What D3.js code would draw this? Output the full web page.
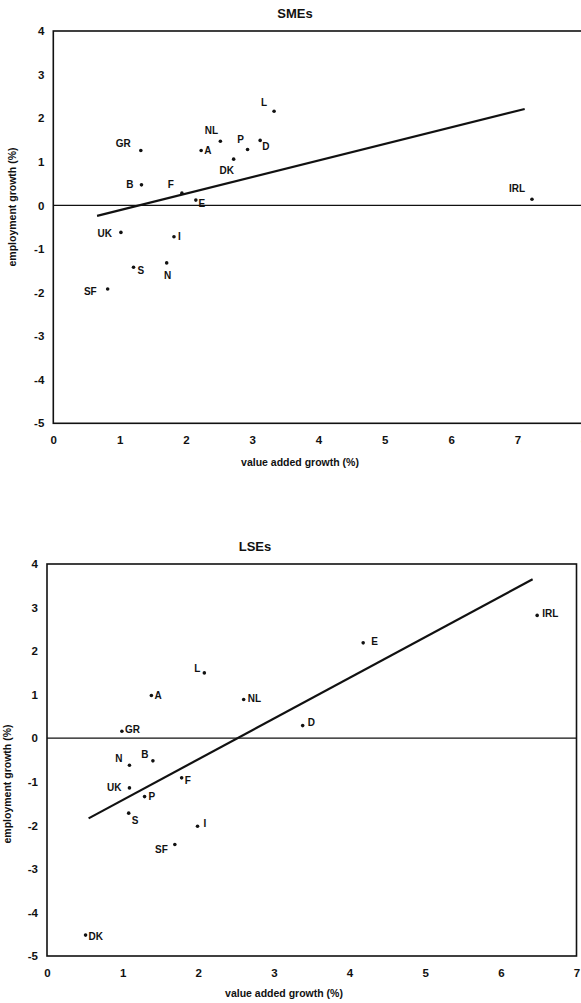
<!DOCTYPE html>
<html>
<head>
<meta charset="utf-8">
<script src="https://cdn.jsdelivr.net/npm/d3@7"></script>
<style>
  body { margin: 0; background: #fff; }
  text { font-family: "Liberation Sans", Arial, sans-serif; fill: #111; }
</style>
</head>
<body>
<svg id="plot"></svg>
<script>
// SMEs panel data
const smeCountries = ["GR", "B", "F", "E", "A", "NL", "P", "D", "L", "DK", "IRL", "UK", "I", "S", "N", "SF"];
const smeValueAdded = [1.32, 1.33, 1.94, 2.15, 2.23, 2.52, 2.93, 3.12, 3.33, 2.72, 7.22, 1.02, 1.82, 1.21, 1.71, 0.82];
const smeEmployment = [1.26, 0.47, 0.28, 0.12, 1.26, 1.47, 1.28, 1.49, 2.16, 1.06, 0.14, -0.62, -0.72, -1.42, -1.32, -1.92];
const smeTrendX = [0.66, 7.11];
const smeTrendY = [-0.24, 2.21];

// LSEs panel data
const lseCountries = ["GR", "N", "B", "UK", "P", "F", "S", "I", "SF", "A", "L", "NL", "E", "D", "IRL", "DK"];
const lseValueAdded = [0.99, 1.09, 1.40, 1.09, 1.29, 1.78, 1.08, 1.99, 1.69, 1.38, 2.08, 2.60, 4.18, 3.38, 6.48, 0.51];
const lseEmployment = [0.16, -0.62, -0.52, -1.14, -1.34, -0.91, -1.72, -2.02, -2.44, 0.98, 1.50, 0.89, 2.19, 0.29, 2.82, -4.52];
const lseTrendX = [0.55, 6.42];
const lseTrendY = [-1.84, 3.65];

const yTicks = [4, 3, 2, 1, 0, -1, -2, -3, -4, -5];

// label placement around each dot: [dx, dy, anchor]
const smeLabelPos = {
  GR: [-10, -3, "end"], B: [-8, 3, "end"], F: [-8, -5, "end"], E: [6, 7, "middle"],
  A: [3, 4, "start"], NL: [-9, -7, "middle"], P: [-7, -7, "middle"], D: [2, 10, "start"],
  L: [-10, -5, "middle"], DK: [-7, 15, "middle"], IRL: [-15, -7, "middle"], UK: [-9, 5, "end"],
  I: [4, 3, "start"], S: [4, 7, "start"], N: [1, 16, "middle"], SF: [-11, 6, "end"]
};
const lseLabelPos = {
  GR: [3, 2, "start"], N: [-7, -3, "end"], B: [-8, -3, "middle"], UK: [-8, 3, "end"],
  P: [4, 3, "start"], F: [3, 6, "start"], S: [3, 11, "start"], I: [6, 1, "start"],
  SF: [-7, 9, "end"], A: [3, 3, "start"], L: [-7, -1, "middle"], NL: [4, 3, "start"],
  E: [8, 2, "start"], D: [5, 0, "start"], IRL: [5, 2, "start"], DK: [3, 5, "start"]
};

const svg = d3.select("#plot").attr("width", 581).attr("height", 1003);

function drawPanel(opt) {
  const x = d3.scaleLinear().domain(opt.xDomain).range(opt.xRange);
  const y = d3.scaleLinear().domain([-5, 4]).range(opt.yRange);
  const g = svg.append("g");

  // frame
  g.append("rect")
    .attr("x", x(opt.xDomain[0])).attr("y", y(4))
    .attr("width", x(opt.xDomain[1]) - x(opt.xDomain[0]))
    .attr("height", y(-5) - y(4))
    .attr("fill", "none").attr("stroke", "#111").attr("stroke-width", 1.6);

  // zero line
  g.append("line")
    .attr("x1", x(opt.xDomain[0])).attr("x2", x(opt.xDomain[1]))
    .attr("y1", y(0)).attr("y2", y(0))
    .attr("stroke", "#111").attr("stroke-width", 1.3);

  // axes (plain hyphen for negatives, like the original)
  const xAxis = g.append("g")
    .attr("transform", "translate(0," + y(-5) + ")")
    .call(d3.axisBottom(x).ticks(opt.xDomain[1]).tickSize(0).tickPadding(13).tickFormat(d => String(d)));
  const yAxis = g.append("g")
    .attr("transform", "translate(" + x(opt.xDomain[0]) + ",0)")
    .call(d3.axisLeft(y).tickValues(yTicks).tickSize(0).tickPadding(9).tickFormat(d => String(d)));
  [xAxis, yAxis].forEach(a => {
    a.select(".domain").remove();
    a.selectAll("text").style("font-size", "11.5px").style("font-weight", "bold")
      .attr("font-family", null).attr("fill", "#111");
  });

  // trend line
  g.append("line")
    .attr("x1", x(opt.trendX[0])).attr("y1", y(opt.trendY[0]))
    .attr("x2", x(opt.trendX[1])).attr("y2", y(opt.trendY[1]))
    .attr("stroke", "#111").attr("stroke-width", 2.2);

  const pts = opt.countries.map((c, i) => ({ c: c, vx: opt.vx[i], vy: opt.vy[i] }));

  g.selectAll(".dot")
    .data(pts)
    .enter().append("circle")
      .attr("class", "dot")
      .attr("cx", d => x(d.vx))
      .attr("cy", d => y(d.vy))
      .attr("r", 1.8)
      .attr("fill", "#111");

  g.selectAll(".lbl")
    .data(pts)
    .enter().append("text")
      .attr("class", "lbl")
      .attr("x", d => x(d.vx) + opt.labelPos[d.c][0])
      .attr("y", d => y(d.vy) + opt.labelPos[d.c][1])
      .attr("text-anchor", d => opt.labelPos[d.c][2])
      .style("font-size", "10px")
      .style("font-weight", "bold")
      .text(d => d.c);

  // titles
  g.append("text")
    .attr("x", opt.titleX).attr("y", opt.titleY)
    .attr("text-anchor", "middle")
    .style("font-size", "13px").style("font-weight", "bold")
    .text(opt.title);

  g.append("text")
    .attr("x", opt.xLabelX).attr("y", opt.xLabelY)
    .attr("text-anchor", "middle")
    .style("font-size", "10.5px").style("font-weight", "bold")
    .text("value added growth (%)");

  g.append("text")
    .attr("transform", "translate(" + opt.yLabelX + "," + opt.yLabelY + ") rotate(-90)")
    .attr("text-anchor", "middle")
    .style("font-size", "10.5px").style("font-weight", "bold")
    .text("employment growth (%)");
}

drawPanel({
  title: "SMEs", titleX: 295, titleY: 18,
  xDomain: [0, 8], xRange: [53.3, 583.7], yRange: [423.3, 31],
  countries: smeCountries, vx: smeValueAdded, vy: smeEmployment,
  trendX: smeTrendX, trendY: smeTrendY, labelPos: smeLabelPos,
  xLabelX: 300, xLabelY: 466, yLabelX: 16, yLabelY: 207
});

drawPanel({
  title: "LSEs", titleX: 255, titleY: 551,
  xDomain: [0, 7], xRange: [47, 576.5], yRange: [956, 564],
  countries: lseCountries, vx: lseValueAdded, vy: lseEmployment,
  trendX: lseTrendX, trendY: lseTrendY, labelPos: lseLabelPos,
  xLabelX: 284, xLabelY: 997, yLabelX: 11, yLabelY: 784
});
</script>
</body>
</html>
